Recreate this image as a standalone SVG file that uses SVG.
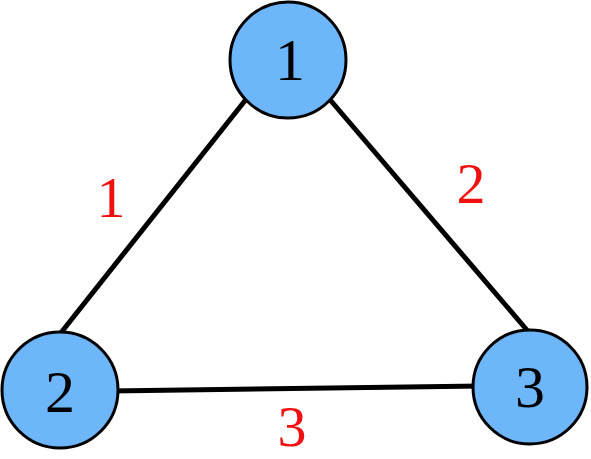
<svg xmlns="http://www.w3.org/2000/svg" width="591" height="459" viewBox="0 0 591 459">
<style>
.edge{stroke:#000;stroke-width:5;stroke-linecap:butt;fill:none}
.node circle{fill:#6DB6FA;stroke:#000;stroke-width:3}
.nl{font-family:"Liberation Serif","DejaVu Serif",serif;font-size:60px;fill:#000;text-anchor:middle}
.el{font-family:"Liberation Serif","DejaVu Serif",serif;font-size:58px;fill:#F01010;text-anchor:middle}
</style>
<rect width="591" height="459" fill="#fff"/>
<g id="connectors">
<line class="edge" x1="255" y1="88" x2="56" y2="339"/>
<line class="edge" x1="320" y1="88" x2="532" y2="336"/>
<line class="edge" x1="110" y1="391" x2="482" y2="386"/>
</g>
<g id="node1" class="node"><circle cx="288" cy="60" r="58"/><text class="nl" x="290" y="80">1</text></g>
<g id="node2" class="node"><circle cx="60" cy="390" r="58"/><text class="nl" x="60" y="412">2</text></g>
<g id="node3" class="node"><circle cx="530" cy="387" r="57"/><text class="nl" x="530" y="407">3</text></g>
<g id="edge-labels">
<text class="el" x="111" y="217">1</text>
<text class="el" x="471" y="203">2</text>
<text class="el" x="292" y="446">3</text>
</g>
</svg>
